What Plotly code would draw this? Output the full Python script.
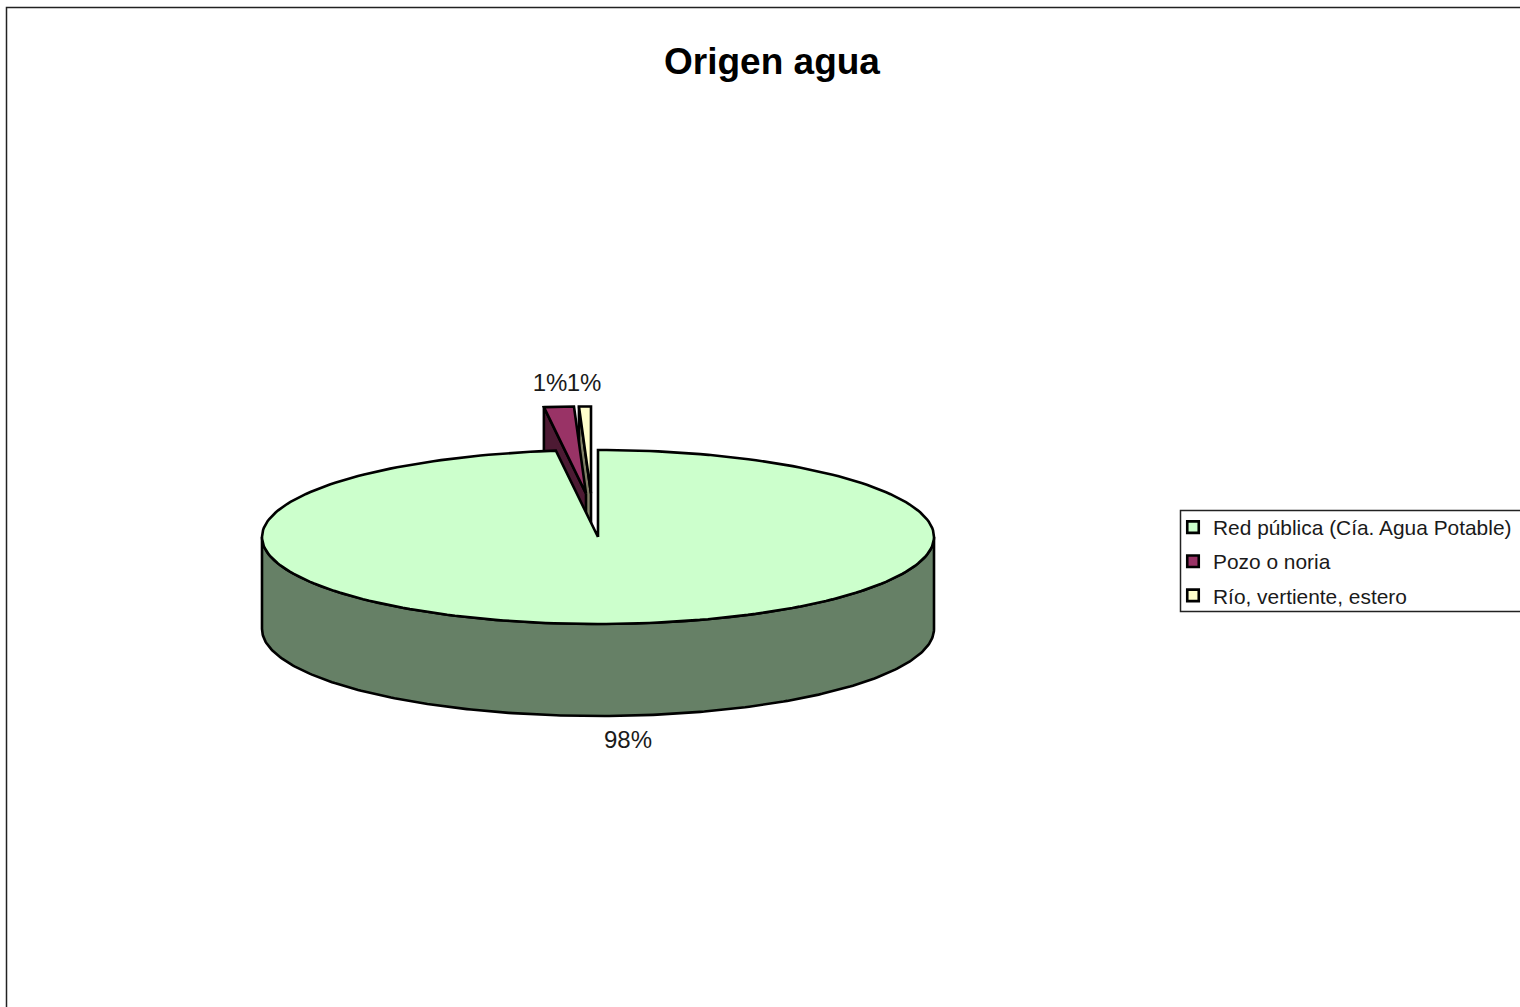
import numpy as np
import plotly.graph_objects as go

# --- data ---
title = "Origen agua"
categories = ["Red pública (Cía. Agua Potable)", "Pozo o noria", "Río, vertiente, estero"]
values = [98.0, 1.43, 0.57]
top_colors = ["#CCFFCC", "#993366", "#FFFFCC"]
wall_colors = ["#668066", "#4D1A33", "#808066"]

# --- geometry of the 3D pie (page pixels) ---
W, H = 1520, 1007
CX, CY, RX, RY, DEPTH = 598, 537, 336, 87, 92
EXPLODE_DX = [0, -12, -7]
EXPLODE_DY = [0, -43.5, -43.5]
LINE = dict(color="#000000", width=2.6)

total = sum(values)
edges = np.concatenate([[0], np.cumsum(values)]) / total * 2 * np.pi


def rim(a0, a1, dx=0, dy=0, n=240):
    t = np.linspace(a0, a1, n)
    return CX + dx + RX * np.sin(t), CY + dy - RY * np.cos(t)


def sector(i):
    x, y = rim(edges[i], edges[i + 1], EXPLODE_DX[i], EXPLODE_DY[i])
    ax, ay = CX + EXPLODE_DX[i], CY + EXPLODE_DY[i]
    return np.r_[ax, x, ax], np.r_[ay, y, ay]


def poly(x, y, color):
    return go.Scatter(x=x, y=y, mode="lines", fill="toself", fillcolor=color, line=LINE,
                      showlegend=False, hoverinfo="skip")


fig = go.Figure()

# exploded slices, back to front: left wall, then top
for i in [2, 1]:
    sx, sy = sector(i)
    # the wall hangs from the left radius (apex to the end of the slice's rim)
    ax, ay = sx[0], sy[0]
    ex, ey = rim(edges[i], edges[i], EXPLODE_DX[i], EXPLODE_DY[i], n=1)
    wx = [ax, ex[0], ex[0], ax, ax]
    wy = [ay, ey[0], ey[0] + DEPTH, ay + DEPTH, ay]
    fig.add_trace(poly(wx, wy, wall_colors[i]))
    fig.add_trace(poly(sx, sy, top_colors[i]))

# main slice: front wall, then top
fx, fy = rim(np.pi / 2, 3 * np.pi / 2)
fig.add_trace(poly(np.r_[fx, fx[::-1], fx[0]], np.r_[fy, fy[::-1] + DEPTH, fy[0]], wall_colors[0]))
sx, sy = sector(0)
fig.add_trace(poly(sx, sy, top_colors[0]))

# percent labels
label_x = [628, 550, 584]
label_y = [742, 385, 385]
fig.add_trace(go.Scatter(x=label_x, y=label_y, mode="text",
                         text=[f"{max(round(v / total * 100), 1)}%" for v in values],
                         textfont=dict(family="Liberation Sans", size=24, color="#1A1A1A"),
                         showlegend=False, hoverinfo="skip"))

# legend entries
for i, name in enumerate(categories):
    fig.add_trace(go.Scatter(x=[None], y=[None], mode="markers", name=name, legendgroup=name,
                             marker=dict(symbol="square", size=11.5, color=top_colors[i],
                                         line=dict(color="#000000", width=2.6))))

fig.update_layout(
    width=W, height=H, margin=dict(l=0, r=0, t=0, b=0, pad=0),
    paper_bgcolor="#FFFFFF", plot_bgcolor="#FFFFFF",
    xaxis=dict(range=[0, W], visible=False, fixedrange=True),
    yaxis=dict(range=[H, 0], visible=False, fixedrange=True),
    font=dict(family="Liberation Sans", color="#000000"),
    title=dict(text=f"<b>{title}</b>", font=dict(family="Liberation Sans", size=37, color="#000000"),
               x=772 / W, xanchor="center", y=1 - 61 / H, yanchor="middle"),
    legend=dict(x=1173 / W, xanchor="left", y=1 - 507 / H, yanchor="top",
                bgcolor="rgba(0,0,0,0)", borderwidth=0, tracegroupgap=4,
                font=dict(family="Liberation Sans", size=20.9, color="#1A1A1A")),
    shapes=[
        dict(type="rect", xref="x", yref="y", x0=6.5, y0=7.5, x1=W + 20, y1=H + 20,
             line=dict(color="#222222", width=1.5), fillcolor="rgba(0,0,0,0)", layer="below"),
        dict(type="rect", xref="x", yref="y", x0=1180.5, y0=510.5, x1=W + 20, y1=611.5,
             line=dict(color="#222222", width=1.5), fillcolor="#FFFFFF", layer="below"),
    ],
)

fig.write_html("out.html", post_script="document.body.style.margin='0';", config=dict(displayModeBar=False))
